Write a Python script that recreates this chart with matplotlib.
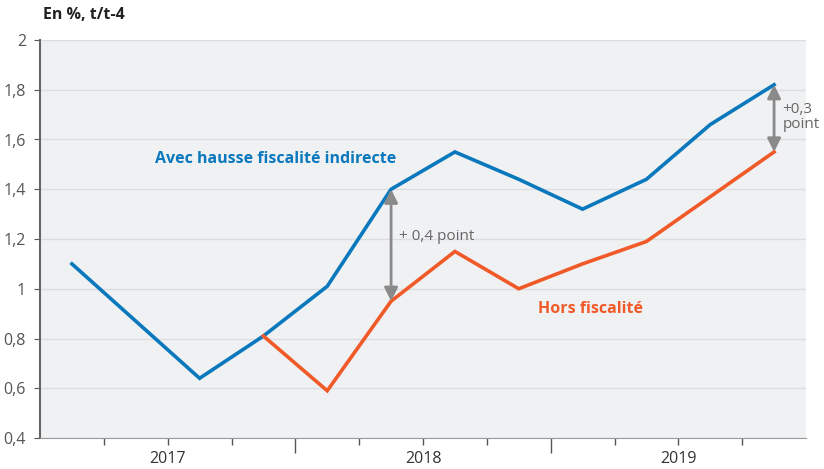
import numpy as np
import matplotlib.pyplot as plt

# quarterly values, 2017T1 .. 2019T4
quarters = ["2017T1", "2017T2", "2017T3", "2017T4",
            "2018T1", "2018T2", "2018T3", "2018T4",
            "2019T1", "2019T2", "2019T3", "2019T4"]
avec = [1.10, 0.87, 0.64, 0.81, 1.01, 1.40, 1.55, 1.44, 1.32, 1.44, 1.66, 1.82]
hors = [np.nan, np.nan, np.nan, 0.81, 0.59, 0.95, 1.15, 1.00, 1.10, 1.19, 1.37, 1.55]
years = ["2017", "2018", "2019"]
yticks = [0.4, 0.6, 0.8, 1.0, 1.2, 1.4, 1.6, 1.8, 2.0]

blue = "#0a78bd"
orange = "#f05a28"
grey = "#8a8a8a"
txt = "#555555"

plt.rcParams["font.family"] = ["Open Sans", "DejaVu Sans"]

fig = plt.figure(figsize=(8.24, 4.69), dpi=100)
ax = fig.add_axes([40 / 824, 1 - 438 / 469, 766 / 824, 398 / 469])
ax.set_facecolor("#f0f1f3")

x = np.arange(len(quarters)) + 0.5
ax.plot(x, avec, color=blue, lw=2.6, solid_joinstyle="miter", zorder=3)
ax.plot(x, hors, color=orange, lw=2.6, solid_joinstyle="miter", zorder=3)

ax.set_xlim(0, len(quarters))
ax.set_ylim(0.4, 2.0)
ax.set_yticks(yticks)
ax.set_yticklabels([f"{v:g}".replace(".", ",") for v in yticks],
                   fontsize=11.5, color=txt)
ax.grid(axis="y", color="#dcdde0", lw=1)
ax.set_axisbelow(True)

# quarter ticks (minor), year boundaries (major)
ax.set_xticks([4, 8])
ax.set_xticklabels([])
ax.set_xticks([i for i in range(1, 12) if i not in (4, 8)], minor=True)
ax.tick_params(axis="x", which="major", length=11, color=txt, width=1)
ax.tick_params(axis="x", which="minor", length=5, color=txt, width=1)
ax.tick_params(axis="y", length=4, color=txt, pad=6)
for i, y in enumerate(years):
    ax.text(4 * i + 2, -0.033, y, transform=ax.get_xaxis_transform(),
            ha="center", va="top", fontsize=11.5, color="#333333")

for s in ["top", "right"]:
    ax.spines[s].set_visible(False)
ax.spines["left"].set_color("#666666")
ax.spines["left"].set_linewidth(1.5)
ax.spines["bottom"].set_color("#999999")

# gap arrows
arr = dict(arrowstyle="<|-|>", color=grey, lw=2, mutation_scale=20,
           shrinkA=0, shrinkB=0)
ax.annotate("", xy=(x[5], hors[5]), xytext=(x[5], avec[5]), arrowprops=arr, zorder=4)
ax.annotate("", xy=(x[11], hors[11]), xytext=(x[11], avec[11]), arrowprops=arr, zorder=4)

ax.text(x[5] + 0.13, 1.21, "+ 0,4 point", fontsize=11, color="#666666",
        ha="left", va="center")
ax.text(x[11] + 0.13, 1.69, "+0,3\npoint", fontsize=11, color="#666666",
        ha="left", va="center", linespacing=0.95)

ax.text(1.8, 1.52, "Avec hausse fiscalité indirecte", fontsize=11.5,
        fontweight="bold", color=blue, ha="left", va="center")
ax.text(7.8, 0.92, "Hors fiscalité", fontsize=11.5,
        fontweight="bold", color=orange, ha="left", va="center")

fig.text(43 / 824, 1 - 15 / 469, "En %, t/t-4", fontsize=11.5,
         fontweight="bold", color="#222222", ha="left", va="center")

fig.savefig("out.png", dpi=100)
